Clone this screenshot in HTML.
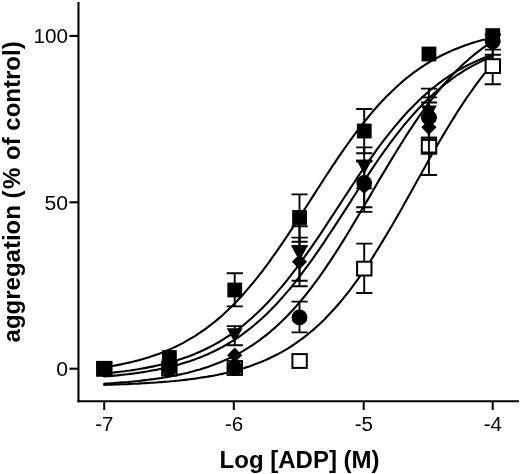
<!DOCTYPE html>
<html><head><meta charset="utf-8"><title>chart</title><style>html,body{margin:0;padding:0;background:#fff}body{width:520px;height:474px;overflow:hidden;font-family:"Liberation Sans",sans-serif}svg{display:block;filter:grayscale(1)}</style></head><body><svg width="520" height="474" viewBox="0 0 520 474">
<rect width="520" height="474" fill="#fff"/>
<g fill="none" stroke="#000" stroke-width="2.1" stroke-linecap="round" stroke-linejoin="round">
<path d="M104.2 367.3 L106.8 366.9 L109.4 366.5 L112.0 366.0 L114.6 365.6 L117.1 365.1 L119.7 364.6 L122.3 364.1 L124.9 363.5 L127.5 362.9 L130.1 362.4 L132.7 361.7 L135.3 361.1 L137.9 360.4 L140.5 359.7 L143.0 359.0 L145.6 358.2 L148.2 357.4 L150.8 356.6 L153.4 355.7 L156.0 354.8 L158.6 353.9 L161.2 352.9 L163.8 351.9 L166.4 350.8 L168.9 349.7 L171.5 348.6 L174.1 347.4 L176.7 346.2 L179.3 344.9 L181.9 343.6 L184.5 342.2 L187.1 340.7 L189.7 339.2 L192.3 337.7 L194.9 336.1 L197.4 334.4 L200.0 332.7 L202.6 330.9 L205.2 329.1 L207.8 327.2 L210.4 325.2 L213.0 323.2 L215.6 321.1 L218.2 318.9 L220.8 316.7 L223.3 314.4 L225.9 312.0 L228.5 309.5 L231.1 307.0 L233.7 304.4 L236.3 301.8 L238.9 299.0 L241.5 296.2 L244.1 293.4 L246.6 290.4 L249.2 287.4 L251.8 284.3 L254.4 281.1 L257.0 277.9 L259.6 274.6 L262.2 271.3 L264.8 267.8 L267.4 264.4 L270.0 260.8 L272.5 257.2 L275.1 253.6 L277.7 249.9 L280.3 246.1 L282.9 242.3 L285.5 238.5 L288.1 234.6 L290.7 230.7 L293.3 226.8 L295.9 222.8 L298.4 218.8 L301.0 214.8 L303.6 210.8 L306.2 206.7 L308.8 202.7 L311.4 198.6 L314.0 194.6 L316.6 190.5 L319.2 186.5 L321.8 182.5 L324.4 178.5 L326.9 174.5 L329.5 170.6 L332.1 166.6 L334.7 162.8 L337.3 158.9 L339.9 155.1 L342.5 151.3 L345.1 147.6 L347.7 144.0 L350.3 140.4 L352.8 136.8 L355.4 133.3 L358.0 129.9 L360.6 126.5 L363.2 123.2 L365.8 120.0 L368.4 116.8 L371.0 113.7 L373.6 110.6 L376.1 107.7 L378.7 104.8 L381.3 102.0 L383.9 99.2 L386.5 96.5 L389.1 93.9 L391.7 91.4 L394.3 88.9 L396.9 86.5 L399.5 84.2 L402.1 81.9 L404.6 79.8 L407.2 77.6 L409.8 75.6 L412.4 73.6 L415.0 71.7 L417.6 69.8 L420.2 68.0 L422.8 66.3 L425.4 64.6 L427.9 63.0 L430.5 61.4 L433.1 59.9 L435.7 58.5 L438.3 57.1 L440.9 55.8 L443.5 54.5 L446.1 53.2 L448.7 52.0 L451.3 50.9 L453.9 49.7 L456.4 48.7 L459.0 47.7 L461.6 46.7 L464.2 45.7 L466.8 44.8 L469.4 43.9 L472.0 43.1 L474.6 42.3 L477.2 41.5 L479.8 40.8 L482.3 40.1 L484.9 39.4 L487.5 38.7 L490.1 38.1 L492.7 37.5"/>
<path d="M104.2 373.5 L106.8 373.2 L109.4 373.0 L112.0 372.7 L114.6 372.4 L117.1 372.1 L119.7 371.8 L122.3 371.5 L124.9 371.2 L127.5 370.8 L130.1 370.5 L132.7 370.1 L135.3 369.7 L137.9 369.3 L140.5 368.8 L143.0 368.4 L145.6 367.9 L148.2 367.4 L150.8 366.9 L153.4 366.4 L156.0 365.8 L158.6 365.2 L161.2 364.6 L163.8 364.0 L166.4 363.3 L168.9 362.6 L171.5 361.9 L174.1 361.1 L176.7 360.4 L179.3 359.5 L181.9 358.7 L184.5 357.8 L187.1 356.9 L189.7 355.9 L192.3 354.9 L194.9 353.9 L197.4 352.8 L200.0 351.7 L202.6 350.5 L205.2 349.3 L207.8 348.0 L210.4 346.7 L213.0 345.3 L215.6 343.9 L218.2 342.5 L220.8 340.9 L223.3 339.4 L225.9 337.7 L228.5 336.0 L231.1 334.3 L233.7 332.5 L236.3 330.6 L238.9 328.7 L241.5 326.7 L244.1 324.6 L246.6 322.5 L249.2 320.2 L251.8 318.0 L254.4 315.6 L257.0 313.2 L259.6 310.8 L262.2 308.2 L264.8 305.6 L267.4 302.9 L270.0 300.1 L272.5 297.3 L275.1 294.4 L277.7 291.4 L280.3 288.4 L282.9 285.3 L285.5 282.1 L288.1 278.9 L290.7 275.6 L293.3 272.2 L295.9 268.8 L298.4 265.3 L301.0 261.8 L303.6 258.2 L306.2 254.6 L308.8 250.9 L311.4 247.2 L314.0 243.4 L316.6 239.6 L319.2 235.8 L321.8 231.9 L324.4 228.0 L326.9 224.1 L329.5 220.1 L332.1 216.2 L334.7 212.2 L337.3 208.2 L339.9 204.3 L342.5 200.3 L345.1 196.3 L347.7 192.4 L350.3 188.4 L352.8 184.5 L355.4 180.6 L358.0 176.7 L360.6 172.9 L363.2 169.1 L365.8 165.3 L368.4 161.6 L371.0 157.9 L373.6 154.3 L376.1 150.7 L378.7 147.1 L381.3 143.7 L383.9 140.2 L386.5 136.9 L389.1 133.6 L391.7 130.3 L394.3 127.2 L396.9 124.1 L399.5 121.0 L402.1 118.0 L404.6 115.1 L407.2 112.3 L409.8 109.5 L412.4 106.9 L415.0 104.2 L417.6 101.7 L420.2 99.2 L422.8 96.8 L425.4 94.4 L427.9 92.2 L430.5 90.0 L433.1 87.8 L435.7 85.8 L438.3 83.7 L440.9 81.8 L443.5 79.9 L446.1 78.1 L448.7 76.4 L451.3 74.7 L453.9 73.0 L456.4 71.4 L459.0 69.9 L461.6 68.5 L464.2 67.0 L466.8 65.7 L469.4 64.4 L472.0 63.1 L474.6 61.9 L477.2 60.7 L479.8 59.6 L482.3 58.5 L484.9 57.4 L487.5 56.4 L490.1 55.5 L492.7 54.6"/>
<path d="M104.2 376.5 L106.8 376.3 L109.4 376.1 L112.0 375.9 L114.6 375.6 L117.1 375.4 L119.7 375.1 L122.3 374.8 L124.9 374.5 L127.5 374.2 L130.1 373.9 L132.7 373.6 L135.3 373.2 L137.9 372.9 L140.5 372.5 L143.0 372.1 L145.6 371.7 L148.2 371.3 L150.8 370.8 L153.4 370.3 L156.0 369.9 L158.6 369.3 L161.2 368.8 L163.8 368.3 L166.4 367.7 L168.9 367.1 L171.5 366.4 L174.1 365.8 L176.7 365.1 L179.3 364.4 L181.9 363.6 L184.5 362.8 L187.1 362.0 L189.7 361.2 L192.3 360.3 L194.9 359.4 L197.4 358.4 L200.0 357.4 L202.6 356.4 L205.2 355.3 L207.8 354.2 L210.4 353.0 L213.0 351.8 L215.6 350.5 L218.2 349.2 L220.8 347.9 L223.3 346.5 L225.9 345.0 L228.5 343.5 L231.1 341.9 L233.7 340.3 L236.3 338.6 L238.9 336.8 L241.5 335.0 L244.1 333.1 L246.6 331.2 L249.2 329.2 L251.8 327.1 L254.4 325.0 L257.0 322.8 L259.6 320.5 L262.2 318.2 L264.8 315.8 L267.4 313.3 L270.0 310.7 L272.5 308.1 L275.1 305.4 L277.7 302.7 L280.3 299.8 L282.9 296.9 L285.5 293.9 L288.1 290.9 L290.7 287.8 L293.3 284.6 L295.9 281.3 L298.4 278.0 L301.0 274.7 L303.6 271.2 L306.2 267.7 L308.8 264.2 L311.4 260.6 L314.0 256.9 L316.6 253.2 L319.2 249.4 L321.8 245.6 L324.4 241.8 L326.9 237.9 L329.5 234.0 L332.1 230.1 L334.7 226.1 L337.3 222.1 L339.9 218.1 L342.5 214.1 L345.1 210.1 L347.7 206.1 L350.3 202.1 L352.8 198.0 L355.4 194.0 L358.0 190.0 L360.6 186.1 L363.2 182.1 L365.8 178.2 L368.4 174.3 L371.0 170.4 L373.6 166.6 L376.1 162.8 L378.7 159.0 L381.3 155.3 L383.9 151.7 L386.5 148.1 L389.1 144.5 L391.7 141.0 L394.3 137.6 L396.9 134.2 L399.5 130.9 L402.1 127.7 L404.6 124.5 L407.2 121.4 L409.8 118.4 L412.4 115.4 L415.0 112.5 L417.6 109.7 L420.2 107.0 L422.8 104.3 L425.4 101.7 L427.9 99.1 L430.5 96.7 L433.1 94.3 L435.7 91.9 L438.3 89.7 L440.9 87.5 L443.5 85.4 L446.1 83.3 L448.7 81.3 L451.3 79.4 L453.9 77.5 L456.4 75.7 L459.0 74.0 L461.6 72.3 L464.2 70.7 L466.8 69.1 L469.4 67.6 L472.0 66.1 L474.6 64.7 L477.2 63.4 L479.8 62.1 L482.3 60.8 L484.9 59.6 L487.5 58.5 L490.1 57.4 L492.7 56.3"/>
<path d="M104.2 383.7 L106.8 383.5 L109.4 383.4 L112.0 383.2 L114.6 383.0 L117.1 382.8 L119.7 382.6 L122.3 382.4 L124.9 382.2 L127.5 382.0 L130.1 381.7 L132.7 381.5 L135.3 381.2 L137.9 381.0 L140.5 380.7 L143.0 380.4 L145.6 380.1 L148.2 379.8 L150.8 379.4 L153.4 379.1 L156.0 378.7 L158.6 378.4 L161.2 378.0 L163.8 377.5 L166.4 377.1 L168.9 376.7 L171.5 376.2 L174.1 375.7 L176.7 375.2 L179.3 374.6 L181.9 374.1 L184.5 373.5 L187.1 372.9 L189.7 372.2 L192.3 371.5 L194.9 370.8 L197.4 370.1 L200.0 369.4 L202.6 368.6 L205.2 367.7 L207.8 366.9 L210.4 366.0 L213.0 365.1 L215.6 364.1 L218.2 363.1 L220.8 362.0 L223.3 360.9 L225.9 359.8 L228.5 358.6 L231.1 357.3 L233.7 356.1 L236.3 354.7 L238.9 353.3 L241.5 351.9 L244.1 350.4 L246.6 348.8 L249.2 347.2 L251.8 345.6 L254.4 343.8 L257.0 342.0 L259.6 340.2 L262.2 338.2 L264.8 336.2 L267.4 334.2 L270.0 332.0 L272.5 329.8 L275.1 327.6 L277.7 325.2 L280.3 322.8 L282.9 320.3 L285.5 317.7 L288.1 315.0 L290.7 312.3 L293.3 309.5 L295.9 306.6 L298.4 303.6 L301.0 300.6 L303.6 297.5 L306.2 294.3 L308.8 291.0 L311.4 287.6 L314.0 284.2 L316.6 280.7 L319.2 277.1 L321.8 273.4 L324.4 269.7 L326.9 265.9 L329.5 262.1 L332.1 258.2 L334.7 254.2 L337.3 250.1 L339.9 246.0 L342.5 241.9 L345.1 237.7 L347.7 233.5 L350.3 229.2 L352.8 224.9 L355.4 220.6 L358.0 216.2 L360.6 211.8 L363.2 207.4 L365.8 203.0 L368.4 198.6 L371.0 194.1 L373.6 189.7 L376.1 185.3 L378.7 180.8 L381.3 176.4 L383.9 172.1 L386.5 167.7 L389.1 163.4 L391.7 159.1 L394.3 154.8 L396.9 150.6 L399.5 146.4 L402.1 142.2 L404.6 138.2 L407.2 134.1 L409.8 130.2 L412.4 126.3 L415.0 122.4 L417.6 118.6 L420.2 114.9 L422.8 111.3 L425.4 107.7 L427.9 104.2 L430.5 100.8 L433.1 97.4 L435.7 94.2 L438.3 91.0 L440.9 87.8 L443.5 84.8 L446.1 81.9 L448.7 79.0 L451.3 76.2 L453.9 73.4 L456.4 70.8 L459.0 68.2 L461.6 65.7 L464.2 63.3 L466.8 61.0 L469.4 58.7 L472.0 56.5 L474.6 54.4 L477.2 52.3 L479.8 50.3 L482.3 48.4 L484.9 46.6 L487.5 44.8 L490.1 43.1 L492.7 41.4"/>
<path d="M104.2 384.9 L106.8 384.8 L109.4 384.7 L112.0 384.6 L114.6 384.5 L117.1 384.5 L119.7 384.4 L122.3 384.3 L124.9 384.2 L127.5 384.1 L130.1 383.9 L132.7 383.8 L135.3 383.7 L137.9 383.6 L140.5 383.4 L143.0 383.3 L145.6 383.1 L148.2 383.0 L150.8 382.8 L153.4 382.7 L156.0 382.5 L158.6 382.3 L161.2 382.1 L163.8 381.9 L166.4 381.7 L168.9 381.5 L171.5 381.2 L174.1 381.0 L176.7 380.7 L179.3 380.5 L181.9 380.2 L184.5 379.9 L187.1 379.6 L189.7 379.3 L192.3 378.9 L194.9 378.6 L197.4 378.2 L200.0 377.8 L202.6 377.4 L205.2 377.0 L207.8 376.6 L210.4 376.1 L213.0 375.7 L215.6 375.2 L218.2 374.7 L220.8 374.1 L223.3 373.6 L225.9 373.0 L228.5 372.3 L231.1 371.7 L233.7 371.0 L236.3 370.3 L238.9 369.6 L241.5 368.9 L244.1 368.1 L246.6 367.2 L249.2 366.4 L251.8 365.5 L254.4 364.5 L257.0 363.6 L259.6 362.5 L262.2 361.5 L264.8 360.4 L267.4 359.2 L270.0 358.0 L272.5 356.8 L275.1 355.5 L277.7 354.2 L280.3 352.8 L282.9 351.3 L285.5 349.8 L288.1 348.3 L290.7 346.6 L293.3 345.0 L295.9 343.2 L298.4 341.4 L301.0 339.5 L303.6 337.6 L306.2 335.6 L308.8 333.5 L311.4 331.3 L314.0 329.1 L316.6 326.8 L319.2 324.4 L321.8 321.9 L324.4 319.4 L326.9 316.8 L329.5 314.1 L332.1 311.3 L334.7 308.5 L337.3 305.5 L339.9 302.5 L342.5 299.4 L345.1 296.2 L347.7 292.9 L350.3 289.6 L352.8 286.2 L355.4 282.7 L358.0 279.1 L360.6 275.4 L363.2 271.6 L365.8 267.8 L368.4 263.9 L371.0 260.0 L373.6 255.9 L376.1 251.8 L378.7 247.7 L381.3 243.4 L383.9 239.1 L386.5 234.8 L389.1 230.4 L391.7 226.0 L394.3 221.5 L396.9 217.0 L399.5 212.5 L402.1 207.9 L404.6 203.3 L407.2 198.7 L409.8 194.0 L412.4 189.4 L415.0 184.7 L417.6 180.1 L420.2 175.4 L422.8 170.8 L425.4 166.2 L427.9 161.6 L430.5 157.0 L433.1 152.5 L435.7 147.9 L438.3 143.5 L440.9 139.0 L443.5 134.6 L446.1 130.3 L448.7 126.0 L451.3 121.8 L453.9 117.6 L456.4 113.5 L459.0 109.4 L461.6 105.5 L464.2 101.6 L466.8 97.7 L469.4 94.0 L472.0 90.3 L474.6 86.7 L477.2 83.2 L479.8 79.7 L482.3 76.4 L484.9 73.1 L487.5 69.9 L490.1 66.8 L492.7 63.8"/>
</g>
<g stroke="#000" fill="none">
<line x1="78.45" y1="2" x2="78.45" y2="402.3" stroke-width="2.1"/>
<line x1="77.5" y1="401.25" x2="519" y2="401.25" stroke-width="2.1"/>
<line x1="69.4" y1="368.7" x2="78" y2="368.7" stroke-width="2.1"/>
<line x1="69.4" y1="202.3" x2="78" y2="202.3" stroke-width="2.1"/>
<line x1="69.4" y1="35.9" x2="78" y2="35.9" stroke-width="2.1"/>
<line x1="104.2" y1="401" x2="104.2" y2="410" stroke-width="2"/>
<line x1="233.8" y1="401" x2="233.8" y2="410" stroke-width="2"/>
<line x1="363.7" y1="401" x2="363.7" y2="410" stroke-width="2"/>
<line x1="492.7" y1="401" x2="492.7" y2="410" stroke-width="2"/>
</g>

<rect x="97.1" y="361.9" width="14.4" height="13.8" fill="#fff" stroke="#000" stroke-width="2"/>




<circle cx="104.2" cy="368.8" r="7.9" fill="#000"/>
<path d="M104.2 361.2L111.8 368.8L104.2 376.4L96.6 368.8Z" fill="#000"/>
<path d="M96.2 361.4H112.1L104.2 376.0Z" fill="#000"/>
<rect x="96.80" y="361.40" width="14.8" height="14.8" fill="#000"/>

<rect x="162.2" y="361.7" width="14.4" height="13.8" fill="#fff" stroke="#000" stroke-width="2"/>




<circle cx="169.3" cy="368.6" r="7.9" fill="#000"/>
<path d="M169.3 361.0L176.9 368.6L169.3 376.2L161.8 368.6Z" fill="#000"/>
<path d="M161.4 359.6H177.2L169.3 374.2Z" fill="#000"/>
<rect x="162.00" y="350.10" width="14.8" height="14.8" fill="#000"/>

<rect x="227.6" y="361.1" width="14.4" height="13.8" fill="#fff" stroke="#000" stroke-width="2"/>


<path d="M234.7 326.1V345.3M226.7 326.1H242.9M226.7 345.3H242.9" stroke="#000" stroke-width="1.9" fill="none"/>
<path d="M234.7 273.2V306.4M226.7 273.2H242.9M226.7 306.4H242.9" stroke="#000" stroke-width="1.9" fill="none"/>
<circle cx="234.7" cy="368.2" r="7.9" fill="#000"/>
<path d="M234.7 347.6L242.3 355.2L234.7 362.8L227.1 355.2Z" fill="#000"/>
<path d="M226.8 328.2H242.6L234.7 342.8Z" fill="#000"/>
<rect x="227.35" y="282.60" width="14.8" height="14.8" fill="#000"/>

<rect x="292.4" y="354.1" width="14.4" height="13.8" fill="#fff" stroke="#000" stroke-width="2"/>
<path d="M299.5 301.6V332.4M291.5 301.6H307.7M291.5 332.4H307.7" stroke="#000" stroke-width="1.9" fill="none"/>
<path d="M299.5 237.6V286.3M291.5 237.6H307.7M291.5 286.3H307.7" stroke="#000" stroke-width="1.9" fill="none"/>
<path d="M299.5 226.3V280.8M291.5 226.3H307.7M291.5 280.8H307.7" stroke="#000" stroke-width="1.9" fill="none"/>
<path d="M299.5 194.4V241.8M291.5 194.4H307.7M291.5 241.8H307.7" stroke="#000" stroke-width="1.9" fill="none"/>
<circle cx="299.5" cy="317.4" r="7.9" fill="#000"/>
<path d="M299.5 254.2L307.1 261.8L299.5 269.4L291.9 261.8Z" fill="#000"/>
<path d="M291.6 246.5H307.4L299.5 261.1Z" fill="#000"/>
<rect x="292.15" y="210.10" width="14.8" height="14.8" fill="#000"/>
<path d="M364.2 243.6V293.0M356.2 243.6H372.4M356.2 293.0H372.4" stroke="#000" stroke-width="1.9" fill="none"/>
<rect x="357.1" y="261.7" width="14.4" height="13.8" fill="#fff" stroke="#000" stroke-width="2"/>
<path d="M364.2 160.6V207.2M356.2 160.6H372.4M356.2 207.2H372.4" stroke="#000" stroke-width="1.9" fill="none"/>
<path d="M364.2 161.5V211.9M356.2 161.5H372.4M356.2 211.9H372.4" stroke="#000" stroke-width="1.9" fill="none"/>
<path d="M364.2 147.4V188.4M356.2 147.4H372.4M356.2 188.4H372.4" stroke="#000" stroke-width="1.9" fill="none"/>
<path d="M364.2 109.0V153.2M356.2 109.0H372.4M356.2 153.2H372.4" stroke="#000" stroke-width="1.9" fill="none"/>
<circle cx="364.2" cy="183.0" r="7.9" fill="#000"/>
<path d="M364.2 178.8L371.8 186.4L364.2 194.0L356.6 186.4Z" fill="#000"/>
<path d="M356.3 159.8H372.1L364.2 174.4Z" fill="#000"/>
<rect x="356.85" y="123.60" width="14.8" height="14.8" fill="#000"/>
<path d="M428.9 118.0V175.0M420.9 118.0H437.1M420.9 175.0H437.1" stroke="#000" stroke-width="1.9" fill="none"/>
<rect x="421.8" y="139.9" width="14.4" height="13.8" fill="#fff" stroke="#000" stroke-width="2"/>
<path d="M428.9 97.4V137.6M420.9 97.4H437.1M420.9 137.6H437.1" stroke="#000" stroke-width="1.9" fill="none"/>
<path d="M428.9 102.5V152.5M420.9 102.5H437.1M420.9 152.5H437.1" stroke="#000" stroke-width="1.9" fill="none"/>
<path d="M428.9 88.6V137.8M420.9 88.6H437.1M420.9 137.8H437.1" stroke="#000" stroke-width="1.9" fill="none"/>

<circle cx="428.9" cy="117.5" r="7.9" fill="#000"/>
<path d="M428.9 119.7L436.5 127.3L428.9 134.9L421.3 127.3Z" fill="#000"/>
<path d="M421.0 105.6H436.8L428.9 120.2Z" fill="#000"/>
<rect x="421.55" y="46.60" width="14.8" height="14.8" fill="#000"/>
<path d="M492.7 49.6V84.2M484.7 49.6H500.9M484.7 84.2H500.9" stroke="#000" stroke-width="1.9" fill="none"/>
<rect x="485.6" y="59.2" width="14.4" height="13.8" fill="#fff" stroke="#000" stroke-width="2"/>

<path d="M492.7 34.5V54.8M484.7 34.5H500.9M484.7 54.8H500.9" stroke="#000" stroke-width="1.9" fill="none"/>


<circle cx="492.7" cy="41.3" r="7.9" fill="#000"/>
<path d="M492.7 35.4L500.3 43.0L492.7 50.6L485.1 43.0Z" fill="#000"/>
<path d="M484.8 34.4H500.6L492.7 49.0Z" fill="#000"/>
<rect x="485.35" y="28.20" width="14.8" height="14.8" fill="#000"/>
<rect x="291.5" y="245.0" width="16.2" height="2.2" fill="#000"/>
<g font-family="Liberation Sans, sans-serif" fill="#000">
<g font-size="20.3px" text-anchor="end">
<text transform="translate(68 376.4) scale(1.045 1)">0</text>
<text transform="translate(68 209.5) scale(1.045 1)">50</text>
<text transform="translate(68 42.8) scale(1.02 1)">100</text>
</g>
<g font-size="20.5px" text-anchor="middle">
<text transform="translate(104.4 431.2) scale(1.0 1)">-7</text>
<text transform="translate(234.0 431.2) scale(1.0 1)">-6</text>
<text transform="translate(363.9 431.2) scale(1.0 1)">-5</text>
<text transform="translate(492.9 431.2) scale(1.0 1)">-4</text>
</g>
<text x="299.6" y="468" font-size="24px" font-weight="bold" text-anchor="middle">Log [ADP] (M)</text>
<g font-size="24px" font-weight="bold">
<text transform="translate(20 342.4) rotate(-90)">aggregation (</text>
<text transform="translate(20 189) rotate(-90)">%</text>
<text transform="translate(20 160) rotate(-90)">of control)</text>
</g>
</g>
</svg></body></html>
